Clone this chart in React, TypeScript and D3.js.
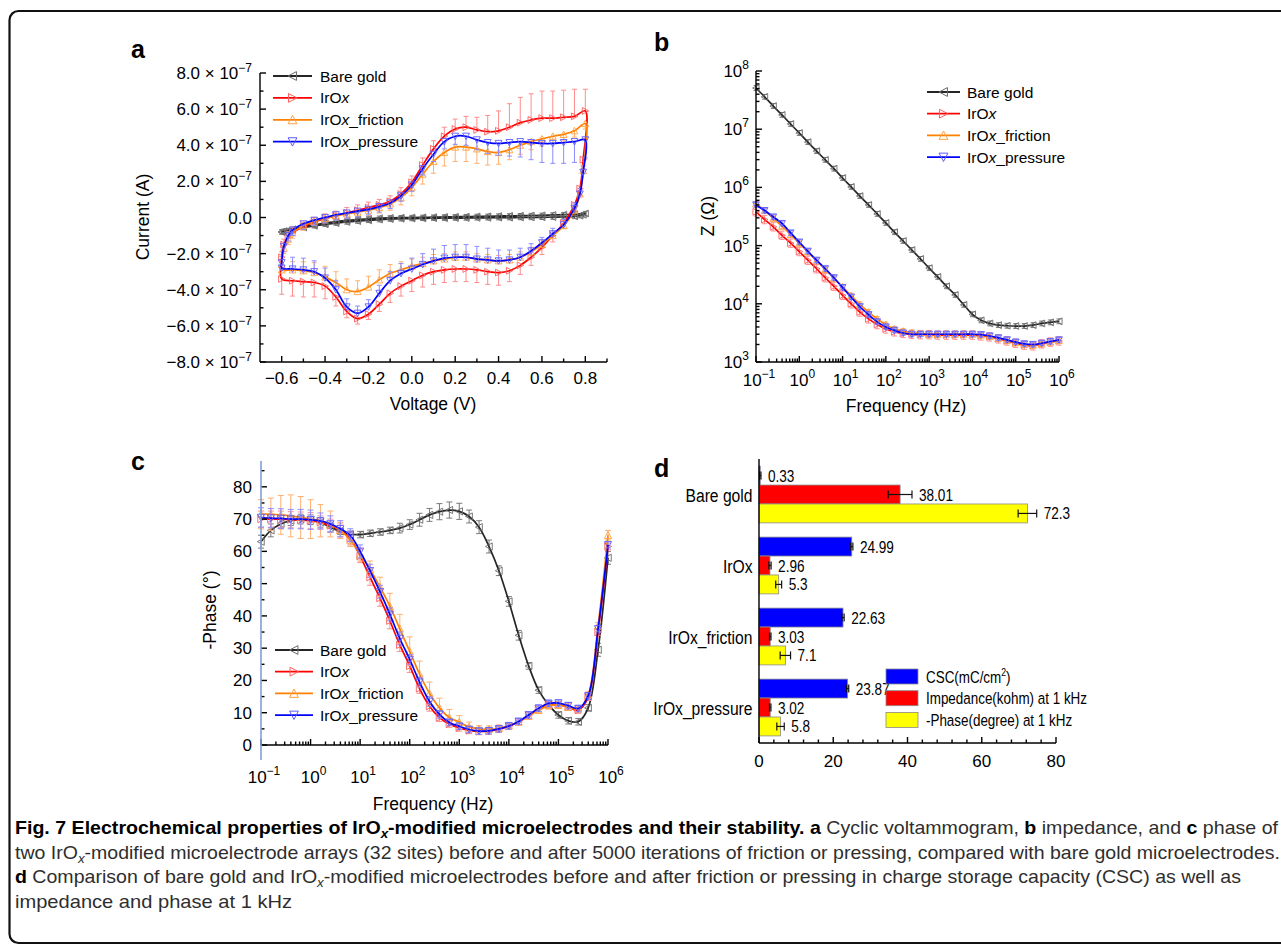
import React from "react";
import * as d3 from "d3";

// ================= DATA =================
const seriesNames = ["Bare gold", "IrOx", "IrOx_friction", "IrOx_pressure"];

// ---- Panel a: cyclic voltammogram (current in units of 1e-7 A) ----
const cvForwardV = [-0.6, -0.59, -0.57, -0.55, -0.5, -0.45, -0.4, -0.35, -0.3, -0.25, -0.2, -0.15, -0.1, -0.05, 0, 0.05, 0.1, 0.15, 0.2, 0.25, 0.3, 0.35, 0.4, 0.45, 0.5, 0.55, 0.6, 0.65, 0.7, 0.75, 0.8];
const cvReverseV = [0.8, 0.79, 0.775, 0.75, 0.7, 0.65, 0.6, 0.55, 0.5, 0.45, 0.4, 0.35, 0.3, 0.25, 0.2, 0.15, 0.1, 0.05, 0, -0.05, -0.1, -0.15, -0.2, -0.25, -0.3, -0.35, -0.4, -0.45, -0.5, -0.55, -0.6];

const bareForwardI = [-0.8, -0.76, -0.72, -0.66, -0.52, -0.41, -0.31, -0.23, -0.16, -0.11, -0.07, -0.04, -0.02, -0.01, 0.0, 0.01, 0.02, 0.03, 0.04, 0.05, 0.06, 0.07, 0.08, 0.09, 0.1, 0.11, 0.12, 0.14, 0.16, 0.18, 0.22];
const bareReverseI = [0.22, 0.15, 0.1, 0.06, 0.03, 0.02, 0.01, 0.0, 0.0, -0.01, -0.01, -0.02, -0.02, -0.03, -0.03, -0.04, -0.04, -0.05, -0.06, -0.07, -0.09, -0.12, -0.16, -0.2, -0.25, -0.31, -0.38, -0.46, -0.56, -0.66, -0.8];
const cvBareErr = 0.12;

const iroxForwardI = [-2.2, -1.5, -1.1, -0.85, -0.5, -0.25, -0.05, 0.1, 0.25, 0.4, 0.55, 0.7, 0.9, 1.3, 1.95, 2.9, 3.8, 4.5, 4.9, 5.0, 4.85, 4.75, 4.8, 5.0, 5.25, 5.4, 5.5, 5.5, 5.55, 5.6, 5.9];
const iroxReverseI = [5.9, 3.2, 1.6, 0.7, -0.3, -1.0, -1.65, -2.2, -2.65, -2.95, -3.05, -3.0, -2.9, -2.85, -2.85, -2.9, -3.0, -3.2, -3.5, -3.8, -4.2, -4.8, -5.35, -5.6, -5.2, -4.4, -3.8, -3.6, -3.55, -3.5, -3.4];
const iroxForwardErr = [0.3, 0.3, 0.3, 0.3, 0.25, 0.25, 0.25, 0.25, 0.3, 0.3, 0.3, 0.3, 0.3, 0.35, 0.35, 0.4, 0.45, 0.5, 0.55, 0.6, 0.7, 0.9, 1.1, 1.3, 1.4, 1.45, 1.5, 1.5, 1.5, 1.5, 1.2];
const iroxReverseErr = [0.6, 0.5, 0.4, 0.35, 0.3, 0.35, 0.4, 0.45, 0.5, 0.6, 0.7, 0.7, 0.7, 0.7, 0.7, 0.7, 0.7, 0.65, 0.6, 0.55, 0.5, 0.4, 0.3, 0.3, 0.35, 0.5, 0.7, 0.8, 0.85, 0.85, 0.85];

const frictionForwardI = [-2.6, -1.7, -1.2, -0.85, -0.45, -0.2, -0.05, 0.1, 0.2, 0.3, 0.4, 0.55, 0.75, 1.1, 1.65, 2.4, 3.1, 3.6, 3.9, 3.9, 3.8, 3.65, 3.6, 3.75, 4.0, 4.2, 4.35, 4.5, 4.6, 4.8, 5.2];
const frictionReverseI = [5.2, 2.6, 1.3, 0.4, -0.45, -1.0, -1.5, -1.9, -2.2, -2.35, -2.4, -2.35, -2.3, -2.2, -2.2, -2.3, -2.4, -2.55, -2.7, -2.9, -3.1, -3.45, -3.85, -4.1, -4.0, -3.6, -3.3, -3.05, -2.95, -2.9, -2.9];
const frictionForwardErr = [0.3, 0.3, 0.3, 0.3, 0.25, 0.25, 0.25, 0.25, 0.25, 0.25, 0.3, 0.3, 0.35, 0.4, 0.45, 0.55, 0.65, 0.75, 0.8, 0.8, 0.8, 0.75, 0.65, 0.55, 0.5, 0.45, 0.4, 0.4, 0.35, 0.35, 0.3];
const frictionReverseErr = [0.3, 0.3, 0.3, 0.3, 0.25, 0.25, 0.25, 0.25, 0.3, 0.3, 0.3, 0.3, 0.3, 0.3, 0.3, 0.3, 0.35, 0.35, 0.4, 0.45, 0.5, 0.55, 0.6, 0.6, 0.6, 0.6, 0.6, 0.55, 0.5, 0.45, 0.4];

const pressureForwardI = [-2.5, -1.6, -1.0, -0.7, -0.35, -0.15, 0.0, 0.15, 0.25, 0.35, 0.45, 0.6, 0.8, 1.2, 1.8, 2.7, 3.5, 4.2, 4.5, 4.5, 4.3, 4.15, 4.1, 4.15, 4.2, 4.15, 4.1, 4.1, 4.15, 4.2, 4.3];
const pressureReverseI = [4.3, 2.5, 1.3, 0.5, -0.4, -0.9, -1.4, -1.85, -2.2, -2.35, -2.4, -2.35, -2.3, -2.2, -2.2, -2.25, -2.4, -2.6, -2.85, -3.1, -3.5, -4.2, -4.95, -5.3, -4.95, -4.0, -3.35, -3.0, -2.9, -2.85, -2.8];
const pressureForwardErr = [0.3, 0.3, 0.3, 0.3, 0.3, 0.3, 0.3, 0.3, 0.3, 0.3, 0.3, 0.3, 0.3, 0.3, 0.35, 0.35, 0.4, 0.4, 0.45, 0.5, 0.55, 0.6, 0.65, 0.75, 0.85, 0.95, 1.05, 1.1, 1.15, 1.15, 1.0];
const pressureReverseErr = [0.4, 0.35, 0.3, 0.3, 0.3, 0.3, 0.3, 0.4, 0.5, 0.55, 0.6, 0.65, 0.7, 0.7, 0.7, 0.7, 0.65, 0.6, 0.6, 0.55, 0.5, 0.45, 0.4, 0.4, 0.45, 0.5, 0.55, 0.6, 0.65, 0.65, 0.65];

const cvYTicks = [-8, -7, -6, -5, -4, -3, -2, -1, 0, 1, 2, 3, 4, 5, 6, 7, 8];
const cvXTicks = [-0.6, -0.5, -0.4, -0.3, -0.2, -0.1, 0, 0.1, 0.2, 0.3, 0.4, 0.5, 0.6, 0.7, 0.8, 0.9];

// ---- Panels b & c: frequency sweep ----
const freqHz = [0.1, 0.158, 0.251, 0.398, 0.631, 1, 1.58, 2.51, 3.98, 6.31, 10, 15.8, 25.1, 39.8, 63.1, 100, 158, 251, 398, 631, 1000, 1580, 2510, 3980, 6310, 1e4, 1.58e4, 2.51e4, 3.98e4, 6.31e4, 1e5, 1.58e5, 2.51e5, 3.98e5, 6.31e5, 1e6];

// impedance |Z| (ohm)
const bareZ = [5.1e7, 3.6e7, 2.5e7, 1.76e7, 1.23e7, 8.6e6, 6.0e6, 4.2e6, 2.97e6, 2.1e6, 1.45e6, 1.02e6, 7.1e5, 5.0e5, 3.5e5, 2.45e5, 1.7e5, 1.2e5, 8.4e4, 5.9e4, 4.1e4, 2.9e4, 2.0e4, 1.42e4, 9.6e3, 6.6e3, 5.2e3, 4.6e3, 4.3e3, 4.2e3, 4.15e3, 4.15e3, 4.3e3, 4.6e3, 4.8e3, 5.0e3];
const iroxZ = [3.8e5, 2.8e5, 2.1e5, 1.5e5, 1.1e5, 7.9e4, 5.6e4, 4.0e4, 2.8e4, 2.0e4, 1.4e4, 1.0e4, 7.2e3, 5.5e3, 4.4e3, 3.7e3, 3.3e3, 3.1e3, 3.0e3, 2.95e3, 2.95e3, 2.9e3, 2.9e3, 2.9e3, 2.9e3, 2.9e3, 2.8e3, 2.7e3, 2.5e3, 2.3e3, 2.1e3, 1.95e3, 1.9e3, 2.05e3, 2.2e3, 2.3e3];
const frictionZ = [5.2e5, 4.0e5, 2.95e5, 2.15e5, 1.55e5, 1.1e5, 7.8e4, 5.5e4, 3.9e4, 2.75e4, 1.95e4, 1.38e4, 9.8e3, 7.2e3, 5.5e3, 4.4e3, 3.7e3, 3.4e3, 3.2e3, 3.1e3, 3.0e3, 3.0e3, 3.0e3, 3.0e3, 3.0e3, 3.0e3, 2.9e3, 2.75e3, 2.55e3, 2.35e3, 2.15e3, 2.0e3, 1.95e3, 2.05e3, 2.2e3, 2.35e3];
const pressureZ = [5.0e5, 4.0e5, 3.1e5, 2.4e5, 1.65e5, 1.15e5, 8.0e4, 5.6e4, 4.0e4, 2.8e4, 1.9e4, 1.3e4, 8.9e3, 6.5e3, 4.9e3, 4.0e3, 3.5e3, 3.15e3, 3.0e3, 3.0e3, 3.0e3, 3.0e3, 3.0e3, 3.0e3, 3.0e3, 3.0e3, 2.95e3, 2.8e3, 2.6e3, 2.4e3, 2.2e3, 2.05e3, 2.0e3, 2.1e3, 2.25e3, 2.4e3];
const zRelErr = [0.1, 0.18, 0.1, 0.1];

// -phase (degree)
const bareP = [63, 66.5, 68.5, 69.5, 70, 69.8, 69, 67.5, 66.2, 65.3, 65.2, 65.6, 66, 66.5, 67.2, 68.3, 69.8, 71.3, 72.3, 72.8, 72.4, 70.8, 67.5, 61.5, 54, 44.5, 34, 24.5, 17, 12.5, 9.3, 7.5, 7.2, 11.5, 29.5, 58];
const iroxP = [70, 70, 70, 69.8, 69.7, 69.5, 69, 68, 66.5, 64, 58.5, 52, 45.5, 38.5, 31, 24.5, 17.5, 12, 8.5, 6.5, 5.3, 4.5, 4.2, 4.3, 4.9, 5.8, 7.2, 9.2, 11.2, 12.6, 12.5, 11.7, 10.8, 14.8, 35, 61.5];
const frictionP = [71.5, 71.5, 71.3, 71, 70.5, 70, 69.5, 68.5, 66.5, 63.5, 59, 54.5, 49, 43, 36, 29, 22, 16, 11.5, 8.5, 7.1, 5.6, 5.0, 4.9, 5.2, 6.0, 7.2, 9.0, 10.8, 12.2, 12.4, 11.8, 11.2, 15.5, 37, 65];
const pressureP = [70.5, 70.3, 70.2, 70, 70, 69.8, 69.4, 68.5, 67, 65, 60, 54, 47.5, 40.5, 33, 26.5, 19.5, 13.5, 9.5, 7, 5.8, 4.8, 4.3, 4.4, 5, 5.9, 7.3, 9.3, 11.4, 12.9, 13, 12.2, 11.3, 15.2, 36, 62];
const bareErrP = [2, 2, 1.5, 1.5, 1.5, 1.5, 1.5, 1.5, 1, 1, 1, 1, 1, 1, 1.5, 1.5, 2, 2, 2.5, 2.5, 2.5, 2, 2, 2, 1.5, 1.5, 1.5, 1, 1, 1, 1, 1, 1, 1, 2, 2];
const iroxErrP = [2.5, 2.5, 2.5, 2.5, 2.5, 2.5, 2, 2, 2, 2, 2, 2.5, 2.5, 2.5, 2, 2, 1.5, 1.5, 1.2, 1, 1, 1, 1, 1, 1, 1, 1, 1, 1, 1, 1, 1, 1, 1, 1, 1];
const frictionErrP = [4.5, 5, 6, 6.5, 6.5, 6, 5, 4, 2.5, 2, 2, 2.5, 3, 4, 4.5, 4.5, 4, 3.5, 3, 2.5, 2, 1.5, 1, 1, 1, 1, 1, 1, 1, 1, 1, 1, 1, 1, 1, 1.5];
const pressureErrP = [3, 3, 3, 3, 3, 3, 2.5, 2.5, 2.5, 2, 2, 2, 2, 2, 2, 1.5, 1.5, 1.5, 1.2, 1, 1, 1, 1, 1, 1, 1, 1, 1, 1, 1, 1, 1, 1, 1, 1, 1];

const freqDecades = [-1, 0, 1, 2, 3, 4, 5, 6];
const zDecades = [3, 4, 5, 6, 7, 8];
const phaseTicks = [0, 5, 10, 15, 20, 25, 30, 35, 40, 45, 50, 55, 60, 65, 70, 75, 80, 85];

// ---- Panel d: bar comparison ----
const barCategories = ["Bare gold", "IrOx", "IrOx_friction", "IrOx_pressure"];
const barSeriesNames = ["CSC(mC/cm2)", "Impedance(kohm) at 1 kHz", "-Phase(degree) at 1 kHz"];
const cscValues = [0.33, 24.99, 22.63, 23.87];
const cscErr = [0.2, 0.3, 0.3, 0.3];
const impedanceValues = [38.01, 2.96, 3.03, 3.02];
const impedanceErr = [3.2, 0.3, 0.2, 0.2];
const phaseValues = [72.3, 5.3, 7.1, 5.8];
const phaseErr = [2.5, 0.8, 1.4, 1.0];
const barXTicks = [0, 4, 8, 12, 16, 20, 24, 28, 32, 36, 40, 44, 48, 52, 56, 60, 64, 68, 72, 76, 80];

// ================= STYLE =================
const FONT = "'Liberation Sans', Arial, Helvetica, sans-serif";
const LINE_COLORS = ["#262626", "#ff0000", "#ff8000", "#0000ff"];
const MARK_COLORS = ["#6a6a6a", "#ff5c5c", "#ffa040", "#5c5cff"];
const ERR_COLORS = ["#7a7a7a", "#ff8c8c", "#ffb070", "#8c8cff"];
const MARKERS = ["left", "right", "up", "down"];
const BAR_COLORS = ["#0000ff", "#ff0000", "#ffff00"];
const LW = 1.7;

function tri(kind: string, s: number): string {
  const a = s * 0.9;
  if (kind === "left") return `M${-s},0L${a},${-s}L${a},${s}Z`;
  if (kind === "right") return `M${s},0L${-a},${-s}L${-a},${s}Z`;
  if (kind === "up") return `M0,${-s}L${s},${a}L${-s},${a}Z`;
  return `M0,${s}L${s},${-a}L${-s},${-a}Z`;
}

function ErrBar({ x, y0, y1, cap, both, color, w }: any) {
  return (
    <g stroke={color} strokeWidth={w || 1} fill="none">
      <line x1={x} x2={x} y1={y0} y2={y1} />
      <line x1={x - cap} x2={x + cap} y1={y1} y2={y1} />
      {both ? <line x1={x - cap} x2={x + cap} y1={y0} y2={y0} /> : null}
    </g>
  );
}

function SeriesLabel({ name }: { name: string }) {
  if (name.startsWith("IrOx")) {
    return (
      <>
        {"IrO"}
        <tspan fontStyle="italic">x</tspan>
        {name.slice(4)}
      </>
    );
  }
  return <>{name}</>;
}

function Legend({ x0, x1, tx, y0, dy, fs }: any) {
  return (
    <g>
      {seriesNames.map((n, i) => {
        const y = y0 + i * dy;
        return (
          <g key={n}>
            <line x1={x0} x2={x1} y1={y} y2={y} stroke={LINE_COLORS[i]} strokeWidth={1.8} />
            <path d={tri(MARKERS[i], 4.4)} transform={`translate(${(x0 + x1) / 2},${y})`} fill="none" stroke={MARK_COLORS[i]} strokeWidth={1} />
            <text x={tx} y={y + 5.5} fontSize={fs}>
              <SeriesLabel name={n} />
            </text>
          </g>
        );
      })}
    </g>
  );
}

function expLabel(e: number) {
  return e < 0 ? `\u2212${Math.abs(e)}` : `${e}`;
}

// ================= PANEL A =================
function PanelA() {
  const x = d3.scaleLinear().domain([-0.7, 0.9]).range([260, 607]);
  const y = d3.scaleLinear().domain([-8, 8]).range([362, 73]);
  const cv = [
    { f: bareForwardI, r: bareReverseI, fe: null, re: null, fd: 0, rd: 0 },
    { f: iroxForwardI, r: iroxReverseI, fe: iroxForwardErr, re: iroxReverseErr, fd: 1, rd: -1 },
    { f: frictionForwardI, r: frictionReverseI, fe: frictionForwardErr, re: frictionReverseErr, fd: -1, rd: 1 },
    { f: pressureForwardI, r: pressureReverseI, fe: pressureForwardErr, re: pressureReverseErr, fd: -1, rd: 1 },
  ];
  const loop = d3
    .line<number[]>()
    .x((d) => x(d[0]))
    .y((d) => y(d[1]))
    .curve(d3.curveCatmullRomClosed.alpha(0.5));

  return (
    <g>
      {cv.map((s: any, si) => {
        const fp = cvForwardV.map((v, i) => ({ v, c: s.f[i], e: s.fe ? s.fe[i] : cvBareErr, d: s.fd }));
        const rp = cvReverseV.map((v, i) => ({ v, c: s.r[i], e: s.re ? s.re[i] : cvBareErr, d: s.rd })).slice(1);
        const pts = [...fp, ...rp];
        return (
          <g key={si}>
            {pts.map((p, i) =>
              p.d === 0 ? (
                <ErrBar key={i} x={x(p.v)} y0={y(p.c - p.e)} y1={y(p.c + p.e)} both cap={2.5} color={ERR_COLORS[si]} />
              ) : (
                <ErrBar key={i} x={x(p.v)} y0={y(p.c)} y1={y(p.c + p.d * p.e)} cap={2.5} color={ERR_COLORS[si]} />
              )
            )}
            <path d={loop(pts.map((p) => [p.v, p.c])) || ""} fill="none" stroke={LINE_COLORS[si]} strokeWidth={LW} />
            {pts.map((p, i) => (
              <path key={i} d={tri(MARKERS[si], 3.4)} transform={`translate(${x(p.v)},${y(p.c)})`} fill="none" stroke={MARK_COLORS[si]} strokeWidth={0.9} />
            ))}
          </g>
        );
      })}
      {/* axes */}
      <g stroke="#000" strokeWidth={1.4}>
        <line x1={260} x2={260} y1={y(8)} y2={y(-8)} />
        <line x1={260} x2={607} y1={y(-8)} y2={y(-8)} />
        {cvYTicks.map((t) => (
          <line key={t} x1={260} x2={260 + (t % 2 === 0 ? 6 : 3.5)} y1={y(t)} y2={y(t)} />
        ))}
        {cvXTicks.map((t, i) => (
          <line key={i} x1={x(t)} x2={x(t)} y1={y(-8)} y2={y(-8) - (i % 2 === 0 ? 6 : 3.5)} />
        ))}
      </g>
      <g fontSize={17}>
        {cvYTicks
          .filter((t) => t % 2 === 0)
          .map((t) => (
            <text key={t} x={252} y={y(t) + 6} textAnchor="end">
              {t === 0 ? (
                "0.0"
              ) : (
                <>
                  {`${t < 0 ? "\u2212" : ""}${Math.abs(t).toFixed(1)} \u00d7 10`}
                  <tspan dy={-7} fontSize={12}>
                    {"\u22127"}
                  </tspan>
                </>
              )}
            </text>
          ))}
        {cvXTicks
          .filter((_, i) => i % 2 === 0 && _ < 0.85)
          .map((t) => (
            <text key={t} x={x(t)} y={384} textAnchor="middle">
              {`${t < 0 ? "\u2212" : ""}${Math.abs(t).toFixed(1)}`}
            </text>
          ))}
      </g>
      <text x={433} y={410} fontSize={17.5} textAnchor="middle">
        Voltage (V)
      </text>
      <text transform="translate(149,217) rotate(-90)" fontSize={17.5} textAnchor="middle">
        Current (A)
      </text>
      <Legend x0={273} x1={312} tx={320} y0={76} dy={21.9} fs={15.5} />
      <text x={131} y={58} fontSize={25} fontWeight="bold">
        a
      </text>
    </g>
  );
}

// ============ log-frequency axis helpers ============
function logMinor(decs: number[]) {
  const out: number[] = [];
  for (let k = 0; k < decs.length - 1; k++) {
    for (let m = 2; m <= 9; m++) out.push(m * Math.pow(10, decs[k]));
  }
  return out;
}

// ================= PANEL B =================
function PanelB() {
  const x = d3.scaleLog().domain([0.1, 1e6]).range([756, 1059]);
  const y = d3.scaleLog().domain([1e3, 1e8]).range([362, 71]);
  const data = [bareZ, iroxZ, frictionZ, pressureZ];
  const line = d3
    .line<number>()
    .x((_, i) => x(freqHz[i]))
    .y((d) => y(d))
    .curve(d3.curveCatmullRom.alpha(0.5));
  return (
    <g>
      {data.map((vals, si) => (
        <g key={si}>
          {vals.map((v, i) => (
            <ErrBar key={i} x={x(freqHz[i])} y0={y(v / (1 + zRelErr[si]))} y1={y(v * (1 + zRelErr[si]))} both cap={2.5} color={ERR_COLORS[si]} />
          ))}
          <path d={line(vals) || ""} fill="none" stroke={LINE_COLORS[si]} strokeWidth={LW} />
          {vals.map((v, i) => (
            <path key={i} d={tri(MARKERS[si], 3.4)} transform={`translate(${x(freqHz[i])},${y(v)})`} fill="none" stroke={MARK_COLORS[si]} strokeWidth={0.9} />
          ))}
        </g>
      ))}
      <g stroke="#000" strokeWidth={1.4}>
        <line x1={756} x2={756} y1={71} y2={362} />
        <line x1={756} x2={1059} y1={362} y2={362} />
        {zDecades.map((e) => (
          <line key={e} x1={756} x2={762} y1={y(Math.pow(10, e))} y2={y(Math.pow(10, e))} />
        ))}
        {logMinor(zDecades).map((v, i) => (
          <line key={i} x1={756} x2={759.5} y1={y(v)} y2={y(v)} />
        ))}
        {freqDecades.map((e) => (
          <line key={e} x1={x(Math.pow(10, e))} x2={x(Math.pow(10, e))} y1={362} y2={356} />
        ))}
        {logMinor(freqDecades).map((v, i) => (
          <line key={i} x1={x(v)} x2={x(v)} y1={362} y2={358.5} />
        ))}
      </g>
      <g fontSize={17}>
        {zDecades.map((e) => (
          <text key={e} x={749} y={y(Math.pow(10, e)) + 6} textAnchor="end">
            10<tspan dy={-8} fontSize={12}>{expLabel(e)}</tspan>
          </text>
        ))}
        {freqDecades.map((e) => (
          <text key={e} x={x(Math.pow(10, e)) + 3} y={386} textAnchor="middle">
            10<tspan dy={-8} fontSize={12}>{expLabel(e)}</tspan>
          </text>
        ))}
      </g>
      <text x={906} y={412} fontSize={17.5} textAnchor="middle">
        Frequency (Hz)
      </text>
      <text transform="translate(714,216) rotate(-90)" fontSize={17.5} textAnchor="middle">
        Z (Ω)
      </text>
      <Legend x0={927} x1={960} tx={967} y0={92} dy={21.7} fs={15.5} />
      <text x={654} y={51} fontSize={25} fontWeight="bold">
        b
      </text>
    </g>
  );
}

// ================= PANEL C =================
function PanelC() {
  const x = d3.scaleLog().domain([0.1, 1e6]).range([261, 608]);
  const y = d3.scaleLinear().domain([0, 88]).range([745, 461]);
  const data = [bareP, iroxP, frictionP, pressureP];
  const errs = [bareErrP, iroxErrP, frictionErrP, pressureErrP];
  const line = d3
    .line<number>()
    .x((_, i) => x(freqHz[i]))
    .y((d) => y(d))
    .curve(d3.curveCatmullRom.alpha(0.5));
  return (
    <g>
      {data.map((vals, si) => (
        <g key={si}>
          {vals.map((v, i) => (
            <ErrBar key={i} x={x(freqHz[i])} y0={y(v - errs[si][i])} y1={y(v + errs[si][i])} both cap={3} color={ERR_COLORS[si]} />
          ))}
          <path d={line(vals) || ""} fill="none" stroke={LINE_COLORS[si]} strokeWidth={LW} />
          {vals.map((v, i) => (
            <path key={i} d={tri(MARKERS[si], 3.6)} transform={`translate(${x(freqHz[i])},${y(v)})`} fill="none" stroke={MARK_COLORS[si]} strokeWidth={0.9} />
          ))}
        </g>
      ))}
      <g stroke="#000" strokeWidth={1.4}>
        <line x1={261} x2={608} y1={745} y2={745} />
        {phaseTicks.map((t) => (
          <line key={t} x1={261} x2={261 + (t % 10 === 0 ? 6 : 3.5)} y1={y(t)} y2={y(t)} />
        ))}
        {freqDecades.map((e) => (
          <line key={e} x1={x(Math.pow(10, e))} x2={x(Math.pow(10, e))} y1={745} y2={739} />
        ))}
        {logMinor(freqDecades).map((v, i) => (
          <line key={i} x1={x(v)} x2={x(v)} y1={745} y2={741.5} />
        ))}
      </g>
      <line x1={261} x2={261} y1={461} y2={760} stroke="#7f9fd6" strokeWidth={1.6} />
      <g fontSize={17}>
        {phaseTicks
          .filter((t) => t % 10 === 0)
          .map((t) => (
            <text key={t} x={252} y={y(t) + 6} textAnchor="end">
              {t}
            </text>
          ))}
        {freqDecades.map((e) => (
          <text key={e} x={x(Math.pow(10, e)) + 3} y={783} textAnchor="middle">
            10<tspan dy={-8} fontSize={12}>{expLabel(e)}</tspan>
          </text>
        ))}
      </g>
      <text x={433} y={810} fontSize={17.5} textAnchor="middle">
        Frequency (Hz)
      </text>
      <text transform="translate(216,610) rotate(-90)" fontSize={17.5} textAnchor="middle">
        -Phase (°)
      </text>
      <Legend x0={275} x1={313} tx={320} y0={650} dy={21.7} fs={15.5} />
      <text x={131} y={470} fontSize={25} fontWeight="bold">
        c
      </text>
    </g>
  );
}

// ================= PANEL D =================
function Cond({ x, y, sx, anchor, fs, children }: any) {
  return (
    <g transform={`translate(${x},${y}) scale(${sx},1)`}>
      <text x={0} y={0} textAnchor={anchor || "start"} fontSize={fs}>
        {children}
      </text>
    </g>
  );
}

function PanelD() {
  const x = d3.scaleLinear().domain([0, 80]).range([759, 1056]);
  const yb = d3.scaleBand<string>().domain(barCategories).range([459, 743]).paddingInner(0.2).paddingOuter(0.1);
  const ys = d3.scaleBand<string>().domain(barSeriesNames).range([0, yb.bandwidth()]);
  const groups = [
    { name: barSeriesNames[0], vals: cscValues, errs: cscErr },
    { name: barSeriesNames[1], vals: impedanceValues, errs: impedanceErr },
    { name: barSeriesNames[2], vals: phaseValues, errs: phaseErr },
  ];
  return (
    <g>
      {barCategories.map((cat, ci) => (
        <g key={cat}>
          {groups.map((g, gi) => {
            const top = (yb(cat) || 0) + (ys(g.name) || 0);
            const h = ys.bandwidth();
            const v = g.vals[ci];
            const e = g.errs[ci];
            const yc = top + h / 2;
            return (
              <g key={gi}>
                <rect x={x(0)} y={top} width={x(v) - x(0)} height={h} fill={BAR_COLORS[gi]} stroke="#8a8a8a" strokeWidth={0.8} />
                <g stroke="#111" strokeWidth={1.2}>
                  <line x1={x(v - e)} x2={x(v + e)} y1={yc} y2={yc} />
                  <line x1={x(v - e)} x2={x(v - e)} y1={yc - 4} y2={yc + 4} />
                  <line x1={x(v + e)} x2={x(v + e)} y1={yc - 4} y2={yc + 4} />
                </g>
                <Cond x={x(v + e) + 7} y={yc + 6} sx={0.8} fs={17}>
                  {String(v)}
                </Cond>
              </g>
            );
          })}
          <Cond x={752.5} y={(yb(cat) || 0) + yb.bandwidth() / 2 + 7} sx={0.87} fs={18} anchor="end">
            {cat}
          </Cond>
        </g>
      ))}
      <g stroke="#000" strokeWidth={1.4}>
        <line x1={759} x2={759} y1={459} y2={743} />
        <line x1={759} x2={1056} y1={743} y2={743} />
        {barXTicks.map((t) => (
          <line key={t} x1={x(t)} x2={x(t)} y1={743} y2={743 - (t % 20 === 0 ? 6 : 3.5)} />
        ))}
      </g>
      <g fontSize={17}>
        {barXTicks
          .filter((t) => t % 20 === 0)
          .map((t) => (
            <text key={t} x={x(t)} y={767} textAnchor="middle">
              {t}
            </text>
          ))}
      </g>
      {/* legend */}
      {barSeriesNames.map((n, i) => {
        const ty = 669 + i * 21.7;
        return (
          <g key={n}>
            <rect x={886} y={ty} width={32} height={15} fill={BAR_COLORS[i]} stroke="#8a8a8a" strokeWidth={0.8} />
            <Cond x={926} y={ty + 13.5} sx={0.79} fs={17}>
              {i === 0 ? (
                <>
                  {"CSC(mC/cm"}
                  <tspan dy={-7} fontSize={11}>
                    2
                  </tspan>
                  <tspan dy={7}>)</tspan>
                </>
              ) : (
                n
              )}
            </Cond>
          </g>
        );
      })}
      <text x={654} y={477} fontSize={25} fontWeight="bold">
        d
      </text>
    </g>
  );
}

// ================= CAPTION =================
function Caption() {
  const CF = "'Liberation Sans Narrow', 'Liberation Sans', Arial, sans-serif";
  const bold = { fontWeight: "bold" as const, fill: "#000" };
  return (
    <g fontFamily={CF} fontSize={19} fill="#2e2e2e">
      <text x={15} y={834} textLength={1263} lengthAdjust="spacingAndGlyphs">
        <tspan {...bold}>Fig. 7 Electrochemical properties of IrO</tspan>
        <tspan {...bold} fontStyle="italic" fontSize={13} dy={4}>
          x
        </tspan>
        <tspan {...bold} dy={-4}>
          -modified microelectrodes and their stability. a
        </tspan>
        <tspan>{" Cyclic voltammogram, "}</tspan>
        <tspan {...bold}>b</tspan>
        <tspan>{" impedance, and "}</tspan>
        <tspan {...bold}>c</tspan>
        <tspan>{" phase of"}</tspan>
      </text>
      <text x={15} y={859} textLength={1265} lengthAdjust="spacingAndGlyphs">
        <tspan>two IrO</tspan>
        <tspan fontStyle="italic" fontSize={13} dy={4}>
          x
        </tspan>
        <tspan dy={-4}>
          -modified microelectrode arrays (32 sites) before and after 5000 iterations of friction or pressing, compared with bare gold microelectrodes.
        </tspan>
      </text>
      <text x={15} y={883} textLength={1226} lengthAdjust="spacingAndGlyphs">
        <tspan {...bold}>d</tspan>
        <tspan>{" Comparison of bare gold and IrO"}</tspan>
        <tspan fontStyle="italic" fontSize={13} dy={4}>
          x
        </tspan>
        <tspan dy={-4}>
          -modified microelectrodes before and after friction or pressing in charge storage capacity (CSC) as well as
        </tspan>
      </text>
      <text x={15} y={908} textLength={277} lengthAdjust="spacingAndGlyphs">
        impedance and phase at 1 kHz
      </text>
    </g>
  );
}

export default function App() {
  return (
    <svg
      width={1281}
      height={946}
      viewBox="0 0 1281 946"
      style={{ position: "absolute", left: 0, top: 0, background: "#fff" }}
      fontFamily={FONT}
    >
      <rect x={0} y={0} width={1281} height={946} fill="#fff" />
      <rect x={9.5} y={11} width={1300} height={932} rx={9} ry={9} fill="none" stroke="#111" strokeWidth={2.2} />
      <PanelA />
      <PanelB />
      <PanelC />
      <PanelD />
      <Caption />
    </svg>
  );
}
